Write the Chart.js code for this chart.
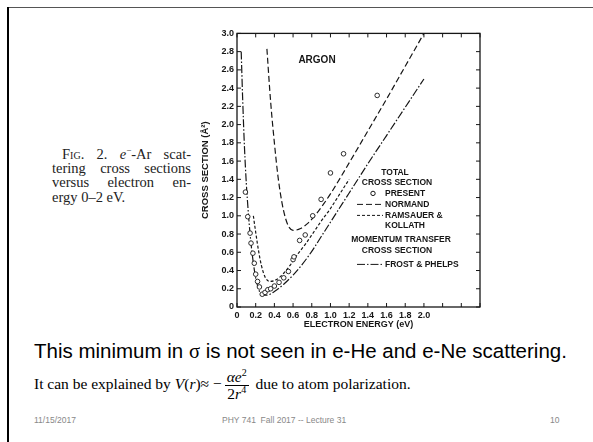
<!DOCTYPE html>
<html>
<head>
<meta charset="utf-8">
<script src="https://cdn.jsdelivr.net/npm/chart.js@4.4.0/dist/chart.umd.min.js"></script>
<style>
  html, body { margin: 0; padding: 0; background: #fff; }
  body { width: 593px; height: 442px; position: relative; overflow: hidden; font-family: "Liberation Sans", Arial, sans-serif; }
  .frame-top { position: absolute; left: 7px; top: 7px; right: 0; height: 1px; background: #555; }
  .frame-left { position: absolute; left: 7px; top: 7px; width: 2px; bottom: 0; background: #000; }
  #plot { position: absolute; left: 196px; top: 25px; width: 294px; height: 309px; }
  .caption { position: absolute; left: 52px; top: 147px; width: 139px; font-family: "Liberation Serif", "Times New Roman", serif; font-size: 14.5px; line-height: 14.2px; color: #222; }
  .caption div { white-space: nowrap; }
  .caption .j { text-align: justify; text-align-last: justify; white-space: normal; }
  .caption .first { text-indent: 10px; }
  .sc { font-variant: small-caps; }
  .main { position: absolute; left: 34px; top: 339px; font-size: 20.5px; white-space: nowrap; color: #000; }
  .main .sig { font-family: "Liberation Serif", serif; }
  .expl { position: absolute; left: 34px; top: 368px; font-family: "Liberation Serif", "Times New Roman", serif; font-size: 15.5px; white-space: nowrap; color: #000; line-height: 32px; }
  .frac { display: inline-block; vertical-align: middle; text-align: center; line-height: 16px; margin: 0 3px; }
  .frac .num { display: block; border-bottom: 1px solid #000; padding: 0 2px; }
  .frac .den { display: block; padding: 0 2px; }
  .foot { position: absolute; top: 415px; font-size: 8.5px; color: #888; white-space: nowrap; }
</style>
</head>
<body>
<div class="frame-top"></div>
<div class="frame-left"></div>

<div class="caption">
  <div class="j first"><span class="sc">Fig</span>. 2. <i>e</i><sup style="font-size:9px;line-height:0">−</sup>-Ar scat-</div>
  <div class="j">tering cross sections</div>
  <div class="j">versus electron en-</div>
  <div>ergy 0–2 eV.</div>
</div>

<div id="plot"><canvas id="sigmaChart"></canvas></div>

<div class="main">This minimum in <span class="sig">σ</span> is not seen in e-He and e-Ne scattering.</div>
<div class="expl">It can be explained by <i>V</i>(<i>r</i>)≈ −<span class="frac"><span class="num"><i>αe</i><sup style="font-size:10px;line-height:0">2</sup></span><span class="den">2<i>r</i><sup style="font-size:10px;line-height:0">4</sup></span></span> due to atom polarization.</div>

<div class="foot" style="left:34px;">11/15/2017</div>
<div class="foot" style="left:222px;">PHY 741&nbsp; Fall 2017 -- Lecture 31</div>
<div class="foot" style="left:550px;">10</div>

<script>
// total cross section, present measurements (open circles)
const presentEnergy = [0.09, 0.115, 0.14, 0.15, 0.17, 0.185, 0.20, 0.22, 0.24, 0.27, 0.30, 0.33, 0.36, 0.40, 0.45, 0.50, 0.55, 0.60, 0.61, 0.67, 0.73, 0.81, 0.90, 1.00, 1.14, 1.50];
const presentSigma = [1.26, 0.99, 0.81, 0.70, 0.59, 0.48, 0.36, 0.28, 0.22, 0.14, 0.16, 0.19, 0.20, 0.23, 0.27, 0.32, 0.39, 0.52, 0.55, 0.73, 0.79, 1.00, 1.18, 1.47, 1.68, 2.32];

// Normand
const normandEnergy = [0.32, 0.36, 0.40, 0.44, 0.48, 0.52, 0.56, 0.60, 0.68, 0.76, 0.84, 0.92, 1.00, 1.20, 1.40, 1.60, 1.80, 2.00];
const normandSigma = [2.83, 2.25, 1.80, 1.42, 1.15, 0.97, 0.87, 0.84, 0.86, 0.92, 1.01, 1.12, 1.24, 1.58, 1.93, 2.28, 2.64, 3.00];

// Ramsauer & Kollath
const ramsauerEnergy = [0.175, 0.20, 0.23, 0.26, 0.30, 0.35, 0.40, 0.45, 0.50, 0.57, 0.65, 0.74, 0.82, 0.90, 1.00, 1.10, 1.20];
const ramsauerSigma = [1.00, 0.82, 0.62, 0.46, 0.33, 0.28, 0.29, 0.32, 0.37, 0.46, 0.58, 0.70, 0.82, 0.94, 1.08, 1.24, 1.40];

// momentum transfer, Frost & Phelps
const frostEnergy = [0.045, 0.06, 0.08, 0.10, 0.12, 0.14, 0.17, 0.20, 0.23, 0.27, 0.32, 0.40, 0.50, 0.60, 0.70, 0.80, 0.90, 1.00, 1.20, 1.40, 1.60, 1.80, 2.00];
const frostSigma = [2.80, 2.30, 1.75, 1.35, 1.05, 0.80, 0.52, 0.32, 0.20, 0.13, 0.13, 0.17, 0.25, 0.35, 0.47, 0.61, 0.77, 0.93, 1.25, 1.57, 1.88, 2.19, 2.50];

const energyAxis = { min: 0, max: 2.6, step: 0.2, lastLabel: 2.0 };
const sigmaAxis = { min: 0, max: 3.0, step: 0.2 };

const toPoints = (xs, ys) => xs.map((x, i) => ({ x, y: ys[i] }));
const fmt = (v) => {
  const r = Math.round(v * 10) / 10;
  return r === 0 ? "0" : r.toFixed(1);
};

const ink = "#161616";
const tickFont = { family: "'Liberation Sans', Arial, sans-serif", size: 9, weight: "bold" };

// frame, inward tick marks and the text block inside the plot
const framePlugin = {
  id: "frame",
  afterDraw(chart) {
    const { ctx, chartArea: a, scales } = chart;
    ctx.save();
    ctx.strokeStyle = ink;
    ctx.lineWidth = 1.3;
    ctx.setLineDash([]);
    ctx.strokeRect(a.left, a.top, a.right - a.left, a.bottom - a.top);

    ctx.lineWidth = 1;
    scales.x.ticks.forEach((t) => {
      const px = scales.x.getPixelForValue(t.value);
      ctx.beginPath();
      ctx.moveTo(px, a.bottom); ctx.lineTo(px, a.bottom - 4);
      ctx.moveTo(px, a.top); ctx.lineTo(px, a.top + 4);
      ctx.stroke();
    });
    scales.y.ticks.forEach((t) => {
      const py = scales.y.getPixelForValue(t.value);
      ctx.beginPath();
      ctx.moveTo(a.left, py); ctx.lineTo(a.left + 4, py);
      ctx.moveTo(a.right, py); ctx.lineTo(a.right - 4, py);
      ctx.stroke();
    });

    // page coordinates relative to plot's top-left corner
    const L = a.left - 237, T = a.top - 33;
    const P = (x, y) => [x + L, y + T];

    ctx.fillStyle = ink;
    ctx.textBaseline = "middle";
    ctx.font = "bold 10px 'Liberation Sans', Arial, sans-serif";
    ctx.textAlign = "center";
    ctx.fillText("ARGON", ...P(317, 60));

    ctx.font = "bold 8.5px 'Liberation Sans', Arial, sans-serif";
    ctx.fillText("TOTAL", ...P(395, 172));
    ctx.fillText("CROSS SECTION", ...P(397, 182));
    ctx.fillText("MOMENTUM TRANSFER", ...P(401, 239));
    ctx.fillText("CROSS SECTION", ...P(397, 250));

    ctx.textAlign = "left";
    ctx.fillText("PRESENT", ...P(385, 193));
    ctx.fillText("NORMAND", ...P(385, 204));
    ctx.fillText("RAMSAUER &", ...P(385, 215));
    ctx.fillText("KOLLATH", ...P(385, 225));
    ctx.fillText("FROST & PHELPS", ...P(385, 264));

    // legend keys
    ctx.lineWidth = 1;
    ctx.beginPath();
    ctx.arc(...P(373, 193), 2.2, 0, Math.PI * 2);
    ctx.stroke();
    const key = (y, dash) => {
      ctx.setLineDash(dash);
      ctx.beginPath();
      ctx.moveTo(...P(357, y)); ctx.lineTo(...P(383, y));
      ctx.stroke();
    };
    key(204, [6, 3]);
    key(215, [3, 2]);
    key(264, [8, 2, 1.5, 2]);
    ctx.restore();
  }
};

const lineSet = (label, xs, ys, dash) => ({
  label,
  data: toPoints(xs, ys),
  showLine: true,
  borderColor: ink,
  borderWidth: 1.2,
  borderDash: dash,
  pointRadius: 0,
  cubicInterpolationMode: "monotone",
  fill: false
});

new Chart(document.getElementById("sigmaChart"), {
  type: "scatter",
  data: {
    datasets: [
      {
        label: "PRESENT",
        data: toPoints(presentEnergy, presentSigma),
        pointRadius: 2.3,
        pointBorderWidth: 0.9,
        pointBorderColor: ink,
        pointBackgroundColor: "#fff",
        showLine: false,
        order: 0
      },
      { ...lineSet("NORMAND", normandEnergy, normandSigma, [6, 3]), order: 1 },
      { ...lineSet("RAMSAUER & KOLLATH", ramsauerEnergy, ramsauerSigma, [3, 2]), order: 2 },
      { ...lineSet("FROST & PHELPS", frostEnergy, frostSigma, [8, 2, 1.5, 2]), order: 3 }
    ]
  },
  options: {
    responsive: true,
    maintainAspectRatio: false,
    animation: false,
    layout: { padding: { top: 8, right: 10, left: 0, bottom: 0 } },
    plugins: { legend: { display: false }, tooltip: { enabled: false } },
    scales: {
      x: {
        type: "linear",
        min: energyAxis.min,
        max: energyAxis.max,
        grid: { display: false, drawTicks: false },
        border: { display: false },
        ticks: {
          stepSize: energyAxis.step,
          autoSkip: false,
          maxRotation: 0,
          padding: 3,
          color: ink,
          font: tickFont,
          callback: (v) => (v > energyAxis.lastLabel + 0.01 ? "" : fmt(v))
        },
        title: { display: true, text: "ELECTRON ENERGY (eV)", color: ink, font: tickFont, padding: { top: 0, bottom: 4 } },
        afterFit: (s) => { s.height = 27; }
      },
      y: {
        type: "linear",
        min: sigmaAxis.min,
        max: sigmaAxis.max,
        grid: { display: false, drawTicks: false },
        border: { display: false },
        ticks: {
          stepSize: sigmaAxis.step,
          autoSkip: false,
          padding: 3,
          color: ink,
          font: tickFont,
          callback: (v) => fmt(v)
        },
        title: { display: true, text: "CROSS SECTION (Å²)", color: ink, font: { ...tickFont, size: 9.5 } },
        afterFit: (s) => { s.width = 41; }
      }
    }
  },
  plugins: [framePlugin]
});
</script>
</body>
</html>
